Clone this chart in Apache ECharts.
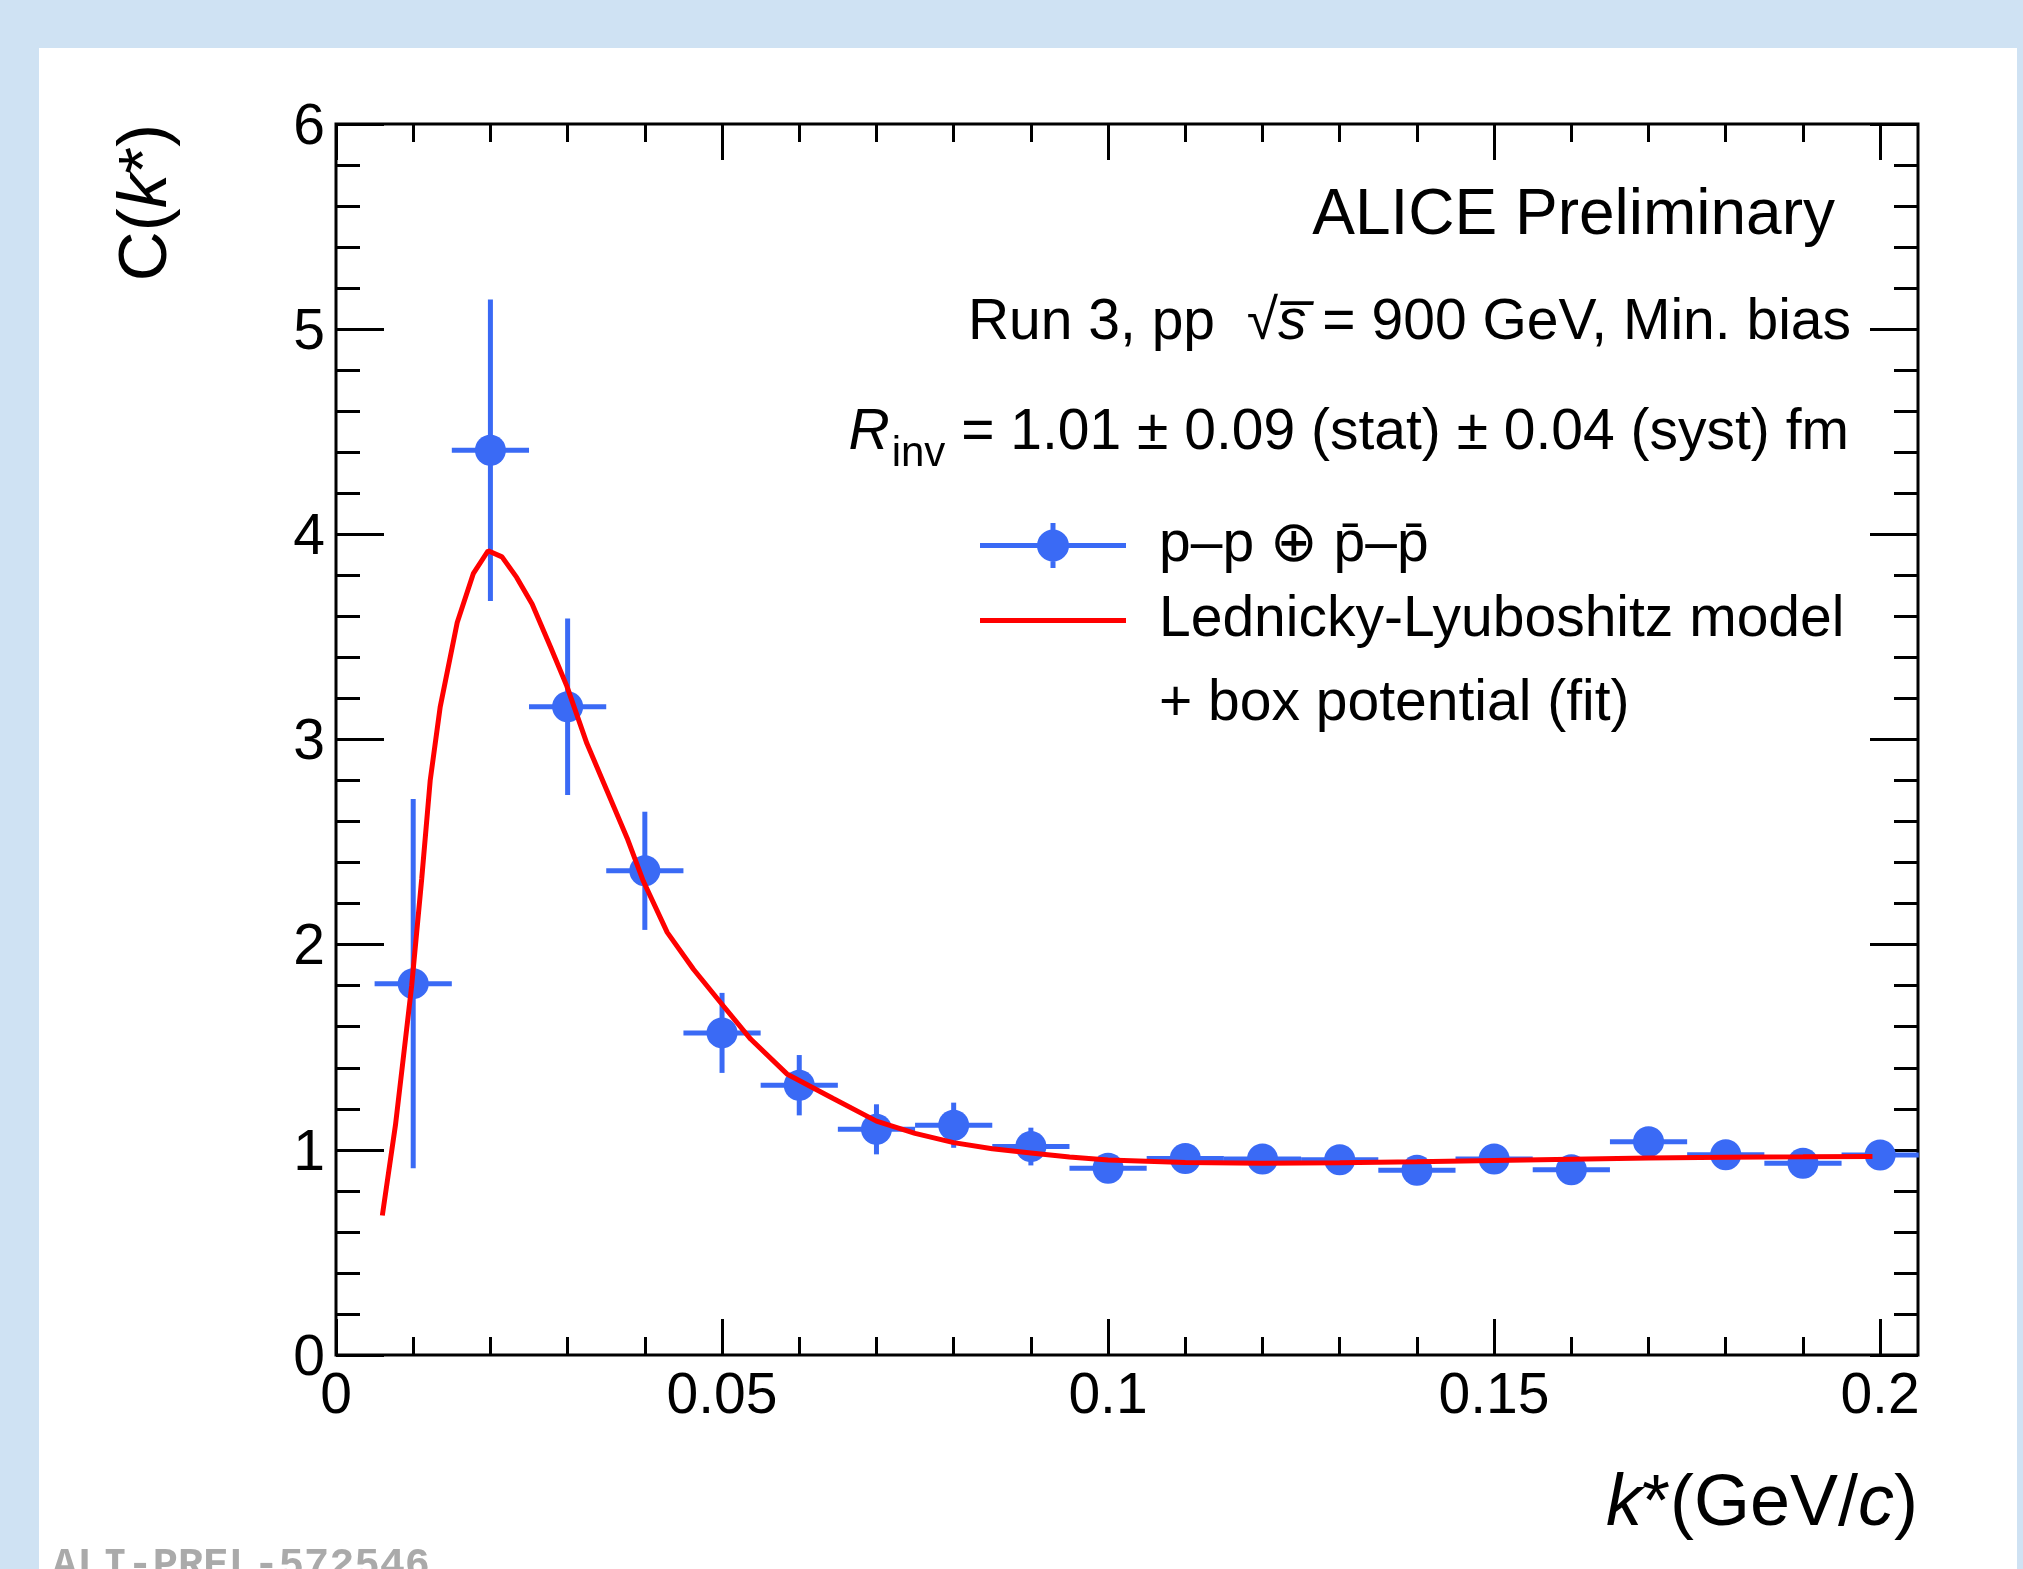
<!DOCTYPE html>
<html>
<head>
<meta charset="utf-8">
<script src="https://cdn.jsdelivr.net/npm/echarts@6/dist/echarts.min.js"></script>
<style>
html,body{margin:0;padding:0;background:#cfe2f3;}
#main{width:2023px;height:1569px;}
</style>
</head>
<body>
<div id="main"></div>
<script>
// ---- data ----
const kStar   = [0.01,0.02,0.03,0.04,0.05,0.06,0.07,0.08,0.09,0.10,0.11,0.12,0.13,0.14,0.15,0.16,0.17,0.18,0.19,0.20];
const cValues = [1.81,4.41,3.16,2.36,1.57,1.315,1.10,1.12,1.016,0.91,0.958,0.955,0.952,0.90,0.955,0.903,1.04,0.976,0.935,0.975];
const cErrors = [0.90,0.735,0.43,0.288,0.195,0.147,0.122,0.11,0.092,0.07,0.07,0.07,0.065,0.065,0.065,0.065,0.06,0.06,0.06,0.06];
const kBinHalfWidth = 0.005;

const fitK = [0.0060,0.0077,0.0086,0.0098,0.0111,0.0122,0.0135,0.0157,0.0178,0.0197,0.0215,0.0234,0.0254,0.0278,0.0299,0.0325,0.0351,0.0377,0.0398,0.0429,0.0463,0.0502,0.0537,0.0584,0.0644,0.0700,0.0750,0.0800,0.0850,0.0900,0.0950,0.1000,0.1100,0.1200,0.1300,0.1400,0.1500,0.1600,0.1700,0.1800,0.1900,0.1990];
const fitC = [0.68,1.12,1.41,1.80,2.32,2.80,3.16,3.57,3.81,3.92,3.89,3.79,3.66,3.45,3.26,2.98,2.75,2.52,2.31,2.06,1.88,1.70,1.54,1.37,1.25,1.14,1.08,1.035,1.005,0.985,0.965,0.95,0.938,0.935,0.937,0.942,0.948,0.954,0.96,0.964,0.966,0.968];

const xTickLabels = ['0','0.05','0.1','0.15','0.2'];
const yTickLabels = ['0','1','2','3','4','5','6'];

const dataName = 'p\u2013p \u2295 p\u0304\u2013p\u0304';
const fitName = 'Lednicky-Lyuboshitz model';
const fitName2 = '+ box potential (fit)';

// ---- styling ----
const FONT = '"Liberation Sans", Arial, Helvetica, "DejaVu Sans", sans-serif';
const BLUE = '#3a6af5';
const RED = '#ff0000';

const chart = echarts.init(document.getElementById('main'), null, {renderer:'canvas', width:2023, height:1569});

const tickStyle = {color:'#000', width:3};
function xLabel(v){ const i = Math.round(v/0.05); return Math.abs(v - i*0.05) < 1e-9 ? (xTickLabels[i] || '') : ''; }
function yLabel(v){ const i = Math.round(v); return Math.abs(v - i) < 1e-9 ? '{a|' + (yTickLabels[i] || '') + '}' : ''; }

const option = {
  backgroundColor: '#cfe2f3',
  animation: false,
  textStyle: {fontFamily: FONT},
  grid: [
    {left:336, top:124, width:1582, height:1231, show:true, backgroundColor:'rgba(0,0,0,0)', borderColor:'#000', borderWidth:3},
    {left:336, top:124, width:1544, height:1231, show:false}
  ],
  xAxis: [
    {gridIndex:0, type:'value', min:0, max:0.2049, show:false},
    {gridIndex:1, type:'value', position:'bottom', min:0, max:0.2, interval:0.05,
      axisLine:{show:false},
      axisTick:{show:true, inside:true, length:36, lineStyle:tickStyle},
      minorTick:{show:true, splitNumber:5, length:18, lineStyle:tickStyle},
      splitLine:{show:false}, minorSplitLine:{show:false},
      axisLabel:{show:true, fontSize:57, color:'#000', fontFamily:FONT, margin:14, formatter:xLabel, showMinLabel:true, showMaxLabel:true}},
    {gridIndex:1, type:'value', position:'top', min:0, max:0.2, interval:0.05,
      axisLine:{show:false},
      axisTick:{show:true, inside:true, length:36, lineStyle:tickStyle},
      minorTick:{show:true, splitNumber:5, length:18, lineStyle:tickStyle},
      splitLine:{show:false}, axisLabel:{show:false}}
  ],
  yAxis: [
    {gridIndex:0, type:'value', position:'left', min:0, max:6, interval:1,
      axisLine:{show:false},
      axisTick:{show:true, inside:true, length:48, lineStyle:tickStyle},
      minorTick:{show:true, splitNumber:5, length:24, lineStyle:tickStyle},
      splitLine:{show:false},
      axisLabel:{show:true, fontSize:57, color:'#000', fontFamily:FONT, margin:11, formatter:yLabel, showMinLabel:true, showMaxLabel:true,
        rich:{a:{fontSize:57, fontFamily:FONT, color:'#000', lineHeight:57, padding:[8,0,0,0]}}}},
    {gridIndex:0, type:'value', position:'right', min:0, max:6, interval:1,
      axisLine:{show:false},
      axisTick:{show:true, inside:true, length:48, lineStyle:tickStyle},
      minorTick:{show:true, splitNumber:5, length:24, lineStyle:tickStyle},
      splitLine:{show:false}, axisLabel:{show:false}},
    {gridIndex:1, type:'value', min:0, max:1, show:false}
  ],
  legend: [
    {data:[{name:dataName, icon:'path://M0,20H146V25H0Z M70.5,0H75.5V45H70.5Z M89,22.5A16,16,0,1,1,57,22.5A16,16,0,1,1,89,22.5Z'}],
     left:980, top:517, padding:0, itemWidth:146, itemHeight:45, selectedMode:false,
     formatter: n => '{t|' + n + '}',
     textStyle:{color:'#000', fontSize:57, fontFamily:FONT, rich:{t:{fontSize:57, lineHeight:64, fontFamily:FONT, color:'#000', padding:[0,0,0,28]}}}},
    {data:[{name:fitName, icon:'path://M0,0H146V5H0Z'}],
     left:980, top:592, padding:0, itemWidth:146, itemHeight:5, selectedMode:false,
     formatter: n => '{t|' + n + '}',
     textStyle:{color:'#000', fontSize:57, fontFamily:FONT, rich:{t:{fontSize:57, lineHeight:64, fontFamily:FONT, color:'#000', padding:[0,0,0,28]}}}}
  ],
  series: [
    {type:'scatter', name:dataName, xAxisIndex:0, yAxisIndex:0,
     data: kStar.map((k,i)=>[k, cValues[i]]),
     symbol:'circle', symbolSize:31, itemStyle:{color:BLUE, opacity:1}, color:BLUE, z:5, silent:true},
    {type:'custom', name:dataName, xAxisIndex:0, yAxisIndex:0,
     data: kStar.map((k,i)=>[k, cValues[i], cErrors[i]]),
     itemStyle:{color:BLUE, opacity:1}, color:BLUE, z:4, silent:true,
     renderItem: function(params, api){
       const x = api.value(0), y = api.value(1), e = api.value(2);
       const pL = api.coord([x - kBinHalfWidth, y]);
       const pR = api.coord([x + kBinHalfWidth, y]);
       const pT = api.coord([x, y + e]);
       const pB = api.coord([x, y - e]);
       return {type:'group', children:[
         {type:'line', shape:{x1:pL[0], y1:pL[1], x2:pR[0], y2:pR[1]}, style:{stroke:BLUE, lineWidth:5}},
         {type:'line', shape:{x1:pT[0], y1:pT[1], x2:pB[0], y2:pB[1]}, style:{stroke:BLUE, lineWidth:5}}
       ]};
     }},
    {type:'line', name:fitName, xAxisIndex:0, yAxisIndex:0,
     data: fitK.map((k,i)=>[k, fitC[i]]),
     showSymbol:false, symbol:'none', smooth:false,
     color:RED, itemStyle:{color:RED}, lineStyle:{color:RED, width:5}, z:6, silent:true}
  ],
  graphic: [
    {type:'rect', z:-1, silent:true, shape:{x:39, y:48, width:1978, height:1521}, style:{fill:'#ffffff'}},
    {type:'text', x:1835, y:216, silent:true, style:{text:'ALICE Preliminary', fontSize:64, fontFamily:FONT, fill:'#000', align:'right', verticalAlign:'middle'}},
    {type:'text', x:1851, y:323, silent:true, style:{
      text:'{n|Run 3, pp  \u221A}{i|s\u0305}{n| = 900 GeV, Min. bias}',
      align:'right', verticalAlign:'middle', fill:'#000',
      rich:{n:{fontSize:57, fontFamily:FONT, fill:'#000', lineHeight:70}, i:{fontSize:57, fontFamily:FONT, fontStyle:'italic', fill:'#000', lineHeight:70}}}},
    {type:'text', x:1849, y:433, silent:true, style:{
      text:'{r|R}{s|inv}{n| = 1.01 \u00B1 0.09 (stat) \u00B1 0.04 (syst) fm}',
      align:'right', verticalAlign:'middle', fill:'#000',
      rich:{n:{fontSize:57, fontFamily:FONT, fill:'#000', lineHeight:90},
            r:{fontSize:57, fontFamily:FONT, fontStyle:'italic', fill:'#000', lineHeight:90},
            s:{fontSize:42, fontFamily:FONT, fill:'#000', lineHeight:42, padding:[43,0,0,2]}}}},
    {type:'text', x:1159, y:704, silent:true, style:{text:fitName2, fontSize:57, fontFamily:FONT, fill:'#000', align:'left', verticalAlign:'middle'}},
    {type:'text', x:147, y:124, rotation:Math.PI/2, silent:true, style:{
      text:'{n|C(}{i|k}{n|*)}', align:'right', verticalAlign:'middle', fill:'#000',
      rich:{n:{fontSize:69, fontFamily:FONT, fill:'#000'}, i:{fontSize:69, fontFamily:FONT, fontStyle:'italic', fill:'#000'}}}},
    {type:'text', x:1918, y:1505, silent:true, style:{
      text:'{i|k}{n|*(GeV/}{i|c}{n|)}', align:'right', verticalAlign:'middle', fill:'#000',
      rich:{n:{fontSize:72, fontFamily:FONT, fill:'#000'}, i:{fontSize:72, fontFamily:FONT, fontStyle:'italic', fill:'#000'}}}},
    {type:'text', x:52, y:1566, silent:true, style:{text:'ALI-PREL-572546', fontSize:42, fontWeight:'bold', fontFamily:'"Liberation Mono", "DejaVu Sans Mono", monospace', fill:'#aaaaaa', align:'left', verticalAlign:'middle'}}
  ]
};
chart.setOption(option);
</script>
</body>
</html>
